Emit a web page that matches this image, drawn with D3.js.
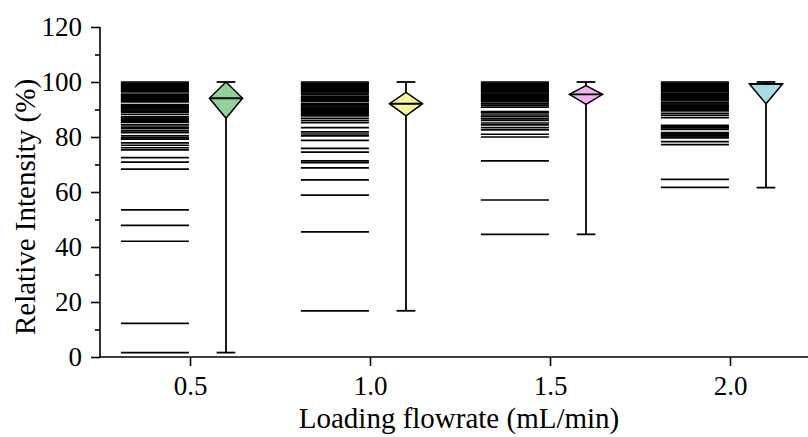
<!DOCTYPE html>
<html>
<head>
<meta charset="utf-8">
<script src="https://cdn.jsdelivr.net/npm/d3@7"></script>
<style>
  body { margin: 0; background: #fff; }
  text { font-family: "Liberation Serif", "Times New Roman", serif; fill: #000; }
</style>
</head>
<body>
<svg id="chart" width="808" height="437"></svg>
<script>
// flowrate categories (mL/min)
const flowrates = [0.5, 1.0, 1.5, 2.0];

// individual relative intensities (%) drawn as rug lines
const rug05 = [100, 99.6, 99.2, 98.8, 98.4, 98.0, 97.6, 97.2, 96.8, 96.4, 95.6, 95.2, 94.8, 94.4, 94.0, 93.6, 93.2, 92.8,
  91.8, 91.4, 91.0, 90.6, 90.2, 89.8, 89.4, 89.0, 88.2, 87.3, 86.9, 86.5, 86.1, 85.7, 85.3, 84.4, 83.6, 83.0, 82.2,
  81.6, 80.4, 79.7, 79.2, 77.9, 77.0, 76.1, 75.3, 72.5, 70.9, 68.3, 53.5, 47.9, 42.1, 12.2, 1.6];
const rug10 = [100, 99.6, 99.2, 98.8, 98.4, 98.0, 97.6, 97.2, 96.8, 96.4, 96.0, 95.6, 94.9, 94.5, 94.1, 93.7, 93.3, 92.9,
  92.1, 91.7, 91.3, 90.9, 90.5, 90.1, 89.7, 89.3, 88.9, 88.5, 88.1, 87.7, 86.8, 86.0, 85.2, 83.4, 81.9, 81.1, 80.4,
  78.8, 75.9, 74.5, 71.3, 70.7, 68.8, 64.4, 58.9, 45.5, 16.8];
const rug15 = [100, 99.6, 99.2, 98.8, 98.4, 98.0, 97.6, 97.2, 96.8, 96.4, 96.0, 95.6, 95.2, 94.8, 94.4, 94.0, 93.6, 93.2,
  92.8, 92.1, 91.6, 90.9, 89.2, 88.8, 88.0, 87.4, 86.6, 86.0, 85.1, 84.4, 83.4, 82.6, 81.0, 80.0, 71.3, 57.1, 44.6];
const rug20 = [100, 99.6, 99.2, 98.8, 98.4, 98.0, 97.6, 97.2, 96.8, 96.4, 95.9, 95.5, 95.1, 94.7, 94.3, 93.9, 93.5, 93.1,
  92.4, 92.0, 91.6, 91.2, 90.8, 90.4, 90.0, 89.5, 88.6, 87.9, 87.0, 84.2, 83.8, 83.3, 82.8, 81.6, 81.2, 80.8, 80.4,
  80.0, 79.7, 78.3, 77.2, 64.6, 61.7];
const rugs = [rug05, rug10, rug15, rug20];

// box summary read from the glyphs
const mins    = [1.6, 16.8, 44.6, 61.6];
const q1s     = [86.8, 87.7, 91.9, 92.1];
const medians = [94.1, 92.1, 95.5, 99.3];
const q3s     = [100, 96.2, 98.7, 99.3];
const maxs    = [100, 100, 100, 100];
const fills   = ["#90d39a", "#f6f59c", "#f1b3f0", "#a9dde6"];

const yTicks = [0, 20, 40, 60, 80, 100, 120];

const svg = d3.select("#chart");
const x = d3.scaleLinear().domain([0.25, 2.25]).range([100, 820]);
const y = d3.scaleLinear().domain([0, 120]).range([357, 27]);

// rug lines
flowrates.forEach((f, i) => {
  svg.append("g").selectAll("line")
    .data(rugs[i])
    .join("line")
    .attr("x1", x(f - 0.192)).attr("x2", x(f - 0.003))
    .attr("y1", d => y(d)).attr("y2", d => y(d))
    .attr("stroke", "#000").attr("stroke-width", 1.7);
});

// diamond box glyphs
const boxes = flowrates.map((f, i) => ({
  c: f + 0.1, min: mins[i], q1: q1s[i], med: medians[i], q3: q3s[i], max: maxs[i], fill: fills[i]
}));
const hw = x(0.25 + 0.046) - x(0.25);
const cap = x(0.25 + 0.026) - x(0.25);

const bg = svg.append("g").selectAll("g").data(boxes).join("g");
bg.append("line")
  .attr("x1", d => x(d.c)).attr("x2", d => x(d.c))
  .attr("y1", d => y(d.max)).attr("y2", d => y(d.min))
  .attr("stroke", "#000").attr("stroke-width", 1.8);
bg.append("line")
  .attr("x1", d => x(d.c) - cap).attr("x2", d => x(d.c) + cap)
  .attr("y1", d => y(d.max)).attr("y2", d => y(d.max))
  .attr("stroke", "#000").attr("stroke-width", 1.8);
bg.append("line")
  .attr("x1", d => x(d.c) - cap).attr("x2", d => x(d.c) + cap)
  .attr("y1", d => y(d.min)).attr("y2", d => y(d.min))
  .attr("stroke", "#000").attr("stroke-width", 1.8);
bg.append("path")
  .attr("d", d => {
    const cx = x(d.c);
    return `M${cx},${y(d.q3)} L${cx + hw},${y(d.med)} L${cx},${y(d.q1)} L${cx - hw},${y(d.med)} Z`;
  })
  .attr("fill", d => d.fill)
  .attr("stroke", "#000").attr("stroke-width", 1.5).attr("stroke-linejoin", "miter");
bg.append("line")
  .attr("x1", d => x(d.c) - hw).attr("x2", d => x(d.c) + hw)
  .attr("y1", d => y(d.med)).attr("y2", d => y(d.med))
  .attr("stroke", "#000").attr("stroke-width", 1.8);

// y axis
const yAxis = svg.append("g").attr("transform", "translate(100,0)")
  .call(d3.axisLeft(y).tickValues(yTicks).tickSize(9).tickPadding(9).tickFormat(d3.format("d")));
svg.append("g").attr("transform", "translate(100,0)")
  .call(d3.axisLeft(y).tickValues(d3.range(10, 120, 20)).tickSize(5).tickFormat(""))
  .call(g => g.select(".domain").remove());
// x axis
const xAxis = svg.append("g").attr("transform", "translate(0,357)")
  .call(d3.axisBottom(x).tickValues(flowrates).tickSize(9).tickPadding(10).tickFormat(d3.format(".1f")));

svg.selectAll(".tick line, .domain").attr("stroke", "#000").attr("stroke-width", 1.6);
yAxis.select(".domain").attr("d", "M0,357V27");
xAxis.select(".domain").attr("d", "M100,0H808");
svg.selectAll(".tick text").attr("font-size", 27).attr("font-family", "Liberation Serif");

svg.append("text")
  .attr("transform", "translate(35,207) rotate(-90)")
  .attr("text-anchor", "middle")
  .attr("font-size", 29)
  .text("Relative Intensity (%)");
svg.append("text")
  .attr("x", 459).attr("y", 428)
  .attr("text-anchor", "middle")
  .attr("font-size", 29)
  .text("Loading flowrate (mL/min)");
</script>
</body>
</html>
